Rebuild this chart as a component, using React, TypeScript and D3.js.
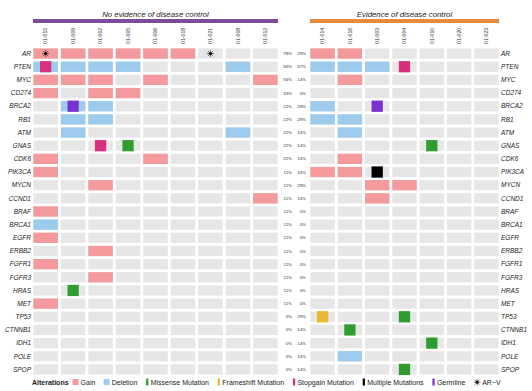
import React, { useEffect, useRef } from "react";
import * as d3 from "d3";

// genes (rows), top to bottom
const genes = ["AR", "PTEN", "MYC", "CD274", "BRCA2", "RB1", "ATM", "GNAS", "CDK6", "PIK3CA", "MYCN", "CCND1", "BRAF", "BRCA1", "EGFR", "ERBB2", "FGFR1", "FGFR3", "HRAS", "MET", "TP53", "CTNNB1", "IDH1", "POLE", "SPOP"];

const noEdSamples = ["01-015", "01-009", "01-002", "01-005", "01-006", "01-018", "01-021", "01-008", "01-012"];
const edSamples = ["01-014", "01-016", "01-003", "01-004", "01-010", "01-020", "01-023"];

const noEdPct = ["78%", "56%", "56%", "33%", "22%", "22%", "22%", "22%", "22%", "11%", "11%", "11%", "11%", "11%", "11%", "11%", "11%", "11%", "11%", "11%", "0%", "0%", "0%", "0%", "0%"];
const edPct = ["29%", "57%", "14%", "0%", "29%", "29%", "14%", "14%", "14%", "43%", "29%", "14%", "0%", "0%", "0%", "0%", "0%", "0%", "0%", "0%", "29%", "14%", "14%", "14%", "14%"];

// copy-number calls: [gene, sample, type]
const noEdCnv: [string, string, string][] = [
  ["AR", "01-015", "Gain"], ["AR", "01-009", "Gain"], ["AR", "01-002", "Gain"], ["AR", "01-005", "Gain"], ["AR", "01-006", "Gain"], ["AR", "01-018", "Gain"],
  ["PTEN", "01-015", "Deletion"], ["PTEN", "01-009", "Deletion"], ["PTEN", "01-002", "Deletion"], ["PTEN", "01-005", "Deletion"], ["PTEN", "01-008", "Deletion"],
  ["MYC", "01-015", "Gain"], ["MYC", "01-009", "Gain"], ["MYC", "01-002", "Gain"], ["MYC", "01-006", "Gain"], ["MYC", "01-012", "Gain"],
  ["CD274", "01-015", "Gain"], ["CD274", "01-002", "Gain"], ["CD274", "01-005", "Gain"],
  ["BRCA2", "01-009", "Deletion"], ["BRCA2", "01-002", "Deletion"],
  ["RB1", "01-009", "Deletion"], ["RB1", "01-002", "Deletion"],
  ["ATM", "01-009", "Deletion"], ["ATM", "01-008", "Deletion"],
  ["CDK6", "01-015", "Gain"], ["CDK6", "01-006", "Gain"],
  ["PIK3CA", "01-015", "Gain"],
  ["MYCN", "01-002", "Gain"],
  ["CCND1", "01-012", "Gain"],
  ["BRAF", "01-015", "Gain"],
  ["BRCA1", "01-015", "Deletion"],
  ["EGFR", "01-015", "Gain"],
  ["ERBB2", "01-002", "Gain"],
  ["FGFR1", "01-015", "Gain"],
  ["FGFR3", "01-002", "Gain"],
  ["MET", "01-015", "Gain"],
];
const edCnv: [string, string, string][] = [
  ["AR", "01-014", "Gain"], ["AR", "01-016", "Gain"],
  ["PTEN", "01-014", "Deletion"], ["PTEN", "01-016", "Deletion"], ["PTEN", "01-003", "Deletion"],
  ["MYC", "01-016", "Gain"],
  ["BRCA2", "01-014", "Deletion"],
  ["RB1", "01-014", "Deletion"], ["RB1", "01-016", "Deletion"],
  ["ATM", "01-016", "Deletion"],
  ["CDK6", "01-016", "Gain"],
  ["PIK3CA", "01-014", "Gain"], ["PIK3CA", "01-016", "Gain"],
  ["MYCN", "01-003", "Gain"], ["MYCN", "01-004", "Gain"],
  ["CCND1", "01-003", "Gain"],
  ["POLE", "01-016", "Deletion"],
];

// point mutations: [gene, sample, type]
const noEdMut: [string, string, string][] = [
  ["PTEN", "01-015", "Stopgain Mutation"],
  ["BRCA2", "01-009", "Germline"],
  ["GNAS", "01-002", "Stopgain Mutation"], ["GNAS", "01-005", "Missense Mutation"],
  ["HRAS", "01-009", "Missense Mutation"],
];
const edMut: [string, string, string][] = [
  ["PTEN", "01-004", "Stopgain Mutation"],
  ["BRCA2", "01-003", "Germline"],
  ["GNAS", "01-010", "Missense Mutation"],
  ["PIK3CA", "01-003", "Multiple Mutations"],
  ["TP53", "01-014", "Frameshift Mutation"], ["TP53", "01-004", "Missense Mutation"],
  ["CTNNB1", "01-016", "Missense Mutation"],
  ["IDH1", "01-010", "Missense Mutation"],
  ["SPOP", "01-004", "Missense Mutation"],
];

// AR variants
const noEdArv = ["01-015", "01-021"];
const edArv: string[] = [];

const legendItems = ["Gain", "Deletion", "Missense Mutation", "Frameshift Mutation", "Stopgain Mutation", "Multiple Mutations", "Germline", "AR\u2212V"];

const colors: Record<string, string> = {
  Gain: "#f4999c",
  Deletion: "#9ccbee",
  "Missense Mutation": "#2f9c2f",
  "Frameshift Mutation": "#ebb630",
  "Stopgain Mutation": "#d8307f",
  "Multiple Mutations": "#000000",
  Germline: "#7a30cf",
};

const W = 532, H = 391;
const font = "'Liberation Sans', Arial, Helvetica, sans-serif";

export default function App() {
  const ref = useRef<SVGSVGElement>(null);

  useEffect(() => {
    document.body.style.margin = "0";
    const svg = d3.select(ref.current);
    svg.selectAll("*").remove();

    const y = d3.scaleBand<string>().domain(genes).range([47, 376]).paddingInner(0.22).paddingOuter(0.11);
    const xL = d3.scaleBand<string>().domain(noEdSamples).range([32, 279]).paddingInner(0.105).paddingOuter(0.05);
    const xR = d3.scaleBand<string>().domain(edSamples).range([309, 500]).paddingInner(0.105).paddingOuter(0.05);

    function drawBlock(x: d3.ScaleBand<string>, samples: string[], cnv: [string, string, string][], mut: [string, string, string][], arv: string[], title: string, barColor: string) {
      const g = svg.append("g");
      const [r0, r1] = x.range();
      // header
      g.append("text").attr("x", (r0 + r1) / 2).attr("y", 16.5).attr("text-anchor", "middle")
        .attr("font-family", font).attr("font-style", "italic").attr("font-size", 7.8).attr("fill", "#222").text(title);
      g.append("rect").attr("x", r0 + 1).attr("y", 19).attr("width", r1 - r0 - 2).attr("height", 4).attr("fill", barColor);
      // sample labels
      g.selectAll("text.sample").data(samples).join("text").attr("class", "sample")
        .attr("transform", d => `translate(${x(d)! + x.bandwidth() / 2 + 1.8},44) rotate(-90)`)
        .attr("font-family", font).attr("font-size", 5.2).attr("fill", "#333").text(d => d);
      // background cells
      const cells = genes.flatMap(gn => samples.map(s => ({ gn, s })));
      g.selectAll("rect.bg").data(cells).join("rect").attr("class", "bg")
        .attr("x", d => x(d.s)!).attr("y", d => y(d.gn)!).attr("width", x.bandwidth()).attr("height", y.bandwidth())
        .attr("fill", "#e6e6e6");
      // copy number
      g.selectAll("rect.cnv").data(cnv).join("rect").attr("class", "cnv")
        .attr("x", d => x(d[1])!).attr("y", d => y(d[0])!).attr("width", x.bandwidth()).attr("height", y.bandwidth())
        .attr("fill", d => colors[d[2]]);
      // mutations
      const ms = y.bandwidth() + 1;
      g.selectAll("rect.mut").data(mut).join("rect").attr("class", "mut")
        .attr("x", d => x(d[1])! + x.bandwidth() / 2 - ms / 2).attr("y", d => y(d[0])! + y.bandwidth() / 2 - ms / 2)
        .attr("width", ms).attr("height", ms).attr("fill", d => colors[d[2]]);
      // AR-V
      arv.forEach(s => {
        drawStar(g, x(s)! + x.bandwidth() / 2, y("AR")! + y.bandwidth() / 2, 3.6);
      });
    }

    function drawStar(g: d3.Selection<SVGGElement, unknown, null, undefined>, cx: number, cy: number, r: number) {
      const s = g.append("g").attr("transform", `translate(${cx},${cy})`);
      d3.range(4).forEach(i => {
        const a = (i * Math.PI) / 4;
        s.append("line").attr("x1", -r * Math.cos(a)).attr("y1", -r * Math.sin(a)).attr("x2", r * Math.cos(a)).attr("y2", r * Math.sin(a))
          .attr("stroke", "#222").attr("stroke-width", 0.6);
      });
      s.append("circle").attr("r", r * 0.42).attr("fill", "#111");
    }

    drawBlock(xL, noEdSamples, noEdCnv, noEdMut, noEdArv, "No evidence of disease control", "#7d4b9b");
    drawBlock(xR, edSamples, edCnv, edMut, edArv, "Evidence of disease control", "#e68a3e");

    // gene labels
    const lab = svg.append("g").attr("font-family", font).attr("font-style", "italic").attr("font-size", 6.5).attr("fill", "#222");
    lab.selectAll("text.gl").data(genes).join("text").attr("class", "gl")
      .attr("x", 31).attr("y", d => y(d)! + y.bandwidth() / 2).attr("dy", "0.35em").attr("text-anchor", "end").text(d => d);
    lab.selectAll("text.gr").data(genes).join("text").attr("class", "gr")
      .attr("x", 501).attr("y", d => y(d)! + y.bandwidth() / 2).attr("dy", "0.35em").text(d => d);

    // percentages
    const pct = svg.append("g").attr("font-family", font).attr("font-size", 4.4).attr("fill", "#333").attr("text-anchor", "end");
    pct.selectAll("text.pl").data(genes).join("text").attr("class", "pl")
      .attr("x", 292).attr("y", (d, i) => y(d)! + y.bandwidth() / 2).attr("dy", "0.35em").text((d, i) => noEdPct[i]);
    pct.selectAll("text.pr").data(genes).join("text").attr("class", "pr")
      .attr("x", 306).attr("y", (d, i) => y(d)! + y.bandwidth() / 2).attr("dy", "0.35em").text((d, i) => edPct[i]);

    // legend
    const lg = svg.append("g").attr("font-family", font).attr("font-size", 7).attr("fill", "#222");
    const ly = 385;
    const t0 = lg.append("text").attr("x", 32).attr("y", ly).attr("font-weight", "bold").text("Alterations");
    let cx = 32 + (t0.node() as SVGTextElement).getComputedTextLength() + 4;
    legendItems.forEach(item => {
      if (item === "Gain" || item === "Deletion") {
        lg.append("rect").attr("x", cx).attr("y", ly - 6).attr("width", 6).attr("height", 6).attr("fill", colors[item]);
        cx += 8;
      } else if (colors[item]) {
        lg.append("rect").attr("x", cx + 0.5).attr("y", ly - 6.5).attr("width", 2.2).attr("height", 7).attr("fill", colors[item]);
        cx += 5;
      } else {
        drawStar(lg as any, cx + 3.5, ly - 2.8, 3.4);
        cx += 8.5;
      }
      const t = lg.append("text").attr("x", cx).attr("y", ly).text(item);
      cx += (t.node() as SVGTextElement).getComputedTextLength() + 8.3;
    });
  }, []);

  return <svg ref={ref} width={W} height={H} style={{ display: "block", background: "#fff" }} />;
}
